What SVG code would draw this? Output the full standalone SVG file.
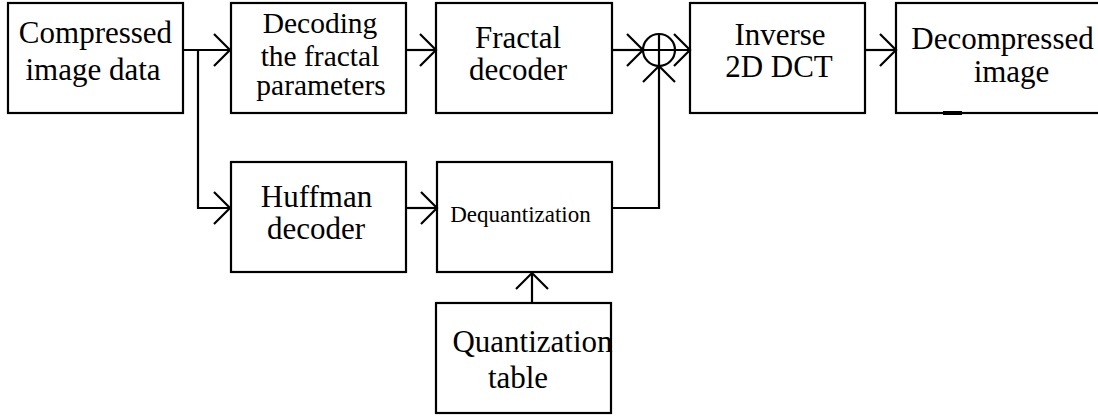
<svg xmlns="http://www.w3.org/2000/svg" width="1098" height="418" viewBox="0 0 1098 418">
  <style>
    .box { fill: #ffffff; stroke: #000000; stroke-width: 2.2; }
    .wire { fill: none; stroke: #000000; stroke-width: 2.2; }
    .lbl { font-family: "Liberation Serif", "Times New Roman", serif; font-size: 31px; fill: #000000; text-anchor: middle; }
    .mid { font-size: 29.5px; }
    .small { font-size: 23px; }
  </style>
  <defs>
    <marker id="vee" markerUnits="userSpaceOnUse" markerWidth="40" markerHeight="40" refX="0" refY="0" viewBox="-20 -20 40 40" orient="auto" overflow="visible">
      <path d="M-16,-16 L0,0 L-16,16" fill="none" stroke="#000000" stroke-width="2.2"/>
    </marker>
  </defs>
  <rect width="1098" height="418" fill="#ffffff"/>

  <g id="compressed-data">
    <rect class="box" x="8" y="3" width="175" height="110"/>
    <text class="lbl" x="95.5" y="43">Compressed</text>
    <text class="lbl" x="93" y="80">image data</text>
  </g>

  <g id="decode-params">
    <rect class="box" x="231" y="3" width="175" height="110"/>
    <text class="lbl mid" x="320" y="33">Decoding</text>
    <text class="lbl mid" x="320" y="66">the fractal</text>
    <text class="lbl mid" x="321" y="95">parameters</text>
  </g>

  <g id="fractal-decoder">
    <rect class="box" x="436" y="3" width="176" height="110"/>
    <text class="lbl" x="518" y="48">Fractal</text>
    <text class="lbl" x="518" y="80">decoder</text>
  </g>

  <g id="inverse-dct">
    <rect class="box" x="690" y="3" width="175" height="110"/>
    <text class="lbl" x="780" y="45">Inverse</text>
    <text class="lbl" x="779" y="77">2D DCT</text>
  </g>

  <g id="decompressed-image">
    <rect class="box" x="896" y="3" width="210" height="110"/>
    <rect x="943" y="111" width="19" height="4" fill="#000000"/>
    <text class="lbl" x="1002.5" y="49">Decompressed</text>
    <text class="lbl" x="1011.5" y="82">image</text>
  </g>

  <g id="huffman-decoder">
    <rect class="box" x="231" y="162" width="175" height="110"/>
    <text class="lbl" x="316.5" y="207">Huffman</text>
    <text class="lbl" x="316" y="239">decoder</text>
  </g>

  <g id="dequantization">
    <rect class="box" x="437" y="162" width="175" height="110"/>
    <text class="lbl small" x="520.5" y="222">Dequantization</text>
  </g>

  <g id="quantization-table">
    <rect class="box" x="436" y="303" width="175" height="110"/>
    <text class="lbl" x="532.5" y="352">Quantization</text>
    <text class="lbl" x="518" y="388">table</text>
  </g>

  <g id="summing-junction">
    <circle class="wire" cx="659" cy="50" r="16"/>
    <line class="wire" x1="659" y1="34" x2="659" y2="66"/>
  </g>

  <g id="connectors">
    <path class="wire" d="M183,50 H230" marker-end="url(#vee)"/>
    <path class="wire" d="M198,50 V208 H230" marker-end="url(#vee)"/>
    <path class="wire" d="M406,50 H436" marker-end="url(#vee)"/>
    <path class="wire" d="M612,50 H643" marker-end="url(#vee)"/>
    <path class="wire" d="M643,50 H690" marker-end="url(#vee)"/>
    <path class="wire" d="M406,208 H437" marker-end="url(#vee)"/>
    <path class="wire" d="M612,208 H659 V66" marker-end="url(#vee)"/>
    <path class="wire" d="M532,303 V273" marker-end="url(#vee)"/>
    <path class="wire" d="M865,50 H896" marker-end="url(#vee)"/>
  </g>
</svg>
